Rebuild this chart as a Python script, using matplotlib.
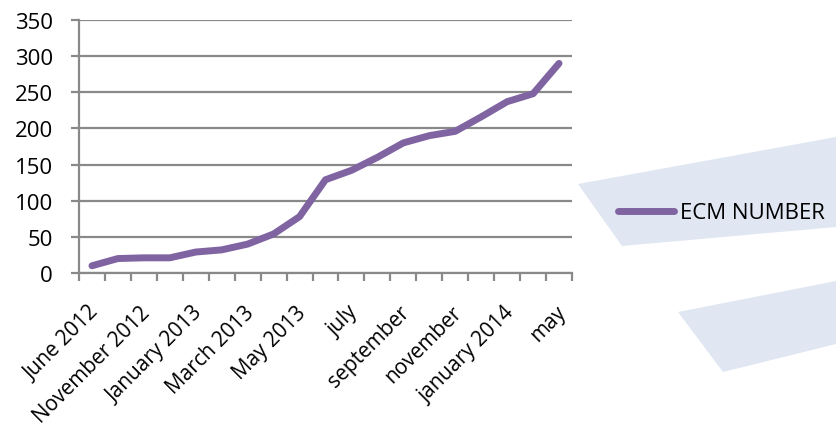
import numpy as np
import matplotlib.pyplot as plt
from matplotlib.patches import Polygon
from matplotlib.transforms import ScaledTranslation

plt.rcParams['font.family'] = ['Open Sans', 'DejaVu Sans']

# monthly ECM count, one value per category
months = ['June 2012', '', 'November 2012', '', 'January 2013', '', 'March 2013', '',
          'May 2013', '', 'july', '', 'september', '', 'november', '', 'january 2014', '', 'may']
ecm_number = [10, 20, 21, 21, 29, 32, 40, 54, 78, 129, 142, 160, 180, 190, 196, 216, 237, 248, 290]
y_ticks = [0, 50, 100, 150, 200, 250, 300, 350]

grid_col = '#898989'
line_col = '#8064A2'
W, H = 836, 431
fs = 16

fig = plt.figure(figsize=(W / 100, H / 100), dpi=100)

# pale slide decoration on the right, behind everything
bg = fig.add_axes([0, 0, 1, 1], zorder=-1)
bg.set_xlim(0, W)
bg.set_ylim(H, 0)
bg.axis('off')
for pts in ([(578, 185), (836, 138), (836, 228), (622, 247)],
            [(678, 313), (836, 282), (836, 345), (723, 373)]):
    bg.add_patch(Polygon(pts, closed=True, facecolor='#e0e6f2', edgecolor='none'))

ax = fig.add_axes([79 / W, 1 - 274 / H, 493 / W, 253 / H])
ax.patch.set_alpha(0)

x = np.arange(len(ecm_number))
ax.plot(x, ecm_number, color=line_col, lw=5, solid_capstyle='round',
        solid_joinstyle='round', label='ECM NUMBER', zorder=3)

ax.set_xlim(-0.5, len(ecm_number) - 0.5)
ax.set_ylim(0, 350)
ax.set_yticks(y_ticks)
ax.yaxis.grid(True, color=grid_col, lw=1.6)
ax.set_axisbelow(True)

ax.set_xticks(np.arange(len(ecm_number) + 1) - 0.5)
ax.set_xticklabels([])
ax.set_xticks(x, minor=True)
ax.set_xticklabels(months, minor=True, rotation=45, ha='right', va='top',
                   rotation_mode='anchor', fontsize=15)
ax.tick_params(axis='x', which='minor', length=0, pad=20.5)
ax.tick_params(axis='x', which='major', length=5.8, width=1.6, color=grid_col)
ax.tick_params(axis='y', length=5.8, width=1.6, color=grid_col, labelsize=fs, pad=13)
shift = ScaledTranslation(-4 / 100, 0, fig.dpi_scale_trans)
for lab in ax.get_xticklabels(minor=True):
    lab.set_transform(lab.get_transform() + shift)

for s in ['top', 'right']:
    ax.spines[s].set_visible(False)
for s in ['left', 'bottom']:
    ax.spines[s].set_color(grid_col)
    ax.spines[s].set_linewidth(1.6)

ax.legend(loc='center left', bbox_to_anchor=(618 / W, 1 - 214 / H),
          bbox_transform=fig.transFigure, frameon=False, fontsize=fs,
          borderaxespad=0, borderpad=0, handlelength=2.5, handletextpad=0.3)

fig.savefig('out.png', dpi=100)
